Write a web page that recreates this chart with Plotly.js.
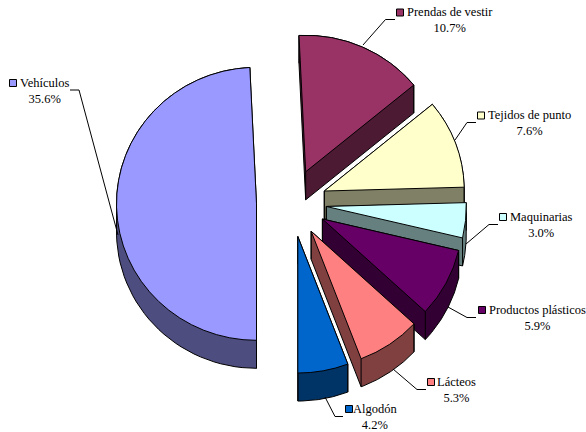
<!DOCTYPE html>
<html>
<head>
<meta charset="utf-8">
<script src="https://cdn.plot.ly/plotly-3.0.1.min.js"></script>
<style>html,body{margin:0;padding:0;background:#fff}#chart{width:586px;height:432px}</style>
</head>
<body>
<div id="chart"></div>
<script>
// Data
const categories = ["Vehículos","Prendas de vestir","Tejidos de punto","Maquinarias","Productos plásticos","Lácteos","Algodón"];
const shares = [35.6,10.7,7.6,3.0,5.9,5.3,4.2];
const topColors = ["#9999FF","#993366","#FFFFCC","#CCFFFF","#660066","#FF8080","#0066CC"];
const wallColors = ["#4D4D80","#4D1A33","#808066","#668080","#330033","#804040","#003366"];

// Geometry of the exploded pie, in page pixels
const W = 586, H = 432;
const CX = 291.5, CY = 203, R = 140, SQUASH = 0.975, PULL_PX = 35, DEPTH = 28, START = 180;
const pull = PULL_PX / R;

// Annotation placement: [text centre x, text centre y]
const labelPos = [[44,90.5],[449.5,20],[529,123],[541,225],[537,318],[456,390],[375.5,416.5]];
// Legend key centres
const keyPos = [[13,83],[400,12.5],[481,115.5],[503,217],[482,310],[431,382],[349,409]];
// Leader lines
const leaders = [
  [[70,90],[79,90],[118,235]],
  [[395,19.5],[385.5,19.5],[363,45]],
  [[476,122.5],[467,122.5],[455,140]],
  [[498,224.5],[489,224.5],[466,244]],
  [[476,317.5],[467,317.5],[448,307]],
  [[426,389.5],[417,389.5],[393,369]],
  [[343,416.5],[335,416.5],[325,397]]
];

function hull(pts){
  const p = pts.slice().sort((a,b)=>a[0]-b[0]||a[1]-b[1]);
  const cross=(o,a,b)=>(a[0]-o[0])*(b[1]-o[1])-(a[1]-o[1])*(b[0]-o[0]);
  const lo=[],up=[];
  for(const q of p){while(lo.length>1&&cross(lo[lo.length-2],lo[lo.length-1],q)<=0)lo.pop();lo.push(q);}
  for(const q of p.slice().reverse()){while(up.length>1&&cross(up[up.length-2],up[up.length-1],q)<=0)up.pop();up.push(q);}
  lo.pop();up.pop();return lo.concat(up);
}

const total = shares.reduce((a,b)=>a+b,0);
const rad = d=>d*Math.PI/180;
let cum = 0;
const wallTraces = [];
shares.forEach((v,i)=>{
  const a0 = START + cum/total*360, a1 = START + (cum+v)/total*360, mid=(a0+a1)/2;
  cum += v;
  const ax = CX + PULL_PX*Math.sin(rad(mid)), ay = CY - SQUASH*PULL_PX*Math.cos(rad(mid));
  const top=[[ax,ay]];
  for(let k=0;k<=60;k++){
    const a=a0+(a1-a0)*k/60;
    top.push([ax+R*Math.sin(rad(a)),ay-SQUASH*R*Math.cos(rad(a))]);
  }
  const all = top.concat(top.map(p=>[p[0],p[1]+DEPTH]));
  const h = hull(all); h.push(h[0]);
  const xs=h.map(p=>p[0]), ys=h.map(p=>p[1]);
  [top[0],top[1],top[top.length-1]].forEach(p=>{
    xs.push(null,p[0],p[0]); ys.push(null,p[1],p[1]+DEPTH);
  });
  wallTraces.push({type:"scatter",mode:"lines",x:xs,y:ys,fill:"toself",fillcolor:wallColors[i],
    line:{color:"#000",width:1},hoverinfo:"skip",showlegend:false,xaxis:"x",yaxis:"y"});
});

// Draw back-to-front
const wallOrder = [1,2,3,0,4,5,6];
const half = R*(1+pull);
const pie = {
  type:"pie",labels:categories,values:shares,sort:false,direction:"clockwise",rotation:START,
  pull:shares.map(()=>pull),textinfo:"none",showlegend:false,
  marker:{colors:topColors,line:{color:"#000",width:1}},
  domain:{x:[(CX-half)/W,(CX+half)/W],y:[1-(CY+half)/H,1-(CY-half)/H]}
};

const shapes=[];
leaders.forEach(l=>{
  shapes.push({type:"path",xref:"x",yref:"y",path:"M"+l.map(p=>p.join(",")).join("L"),line:{color:"#000",width:1}});
});
keyPos.forEach((k,i)=>{
  shapes.push({type:"rect",xref:"x",yref:"y",x0:k[0]-3.5,x1:k[0]+3.5,y0:k[1]-3.5,y1:k[1]+3.5,
    fillcolor:topColors[i],line:{color:"#000",width:1}});
});
const annotations = categories.map((c,i)=>({
  xref:"x",yref:"y",x:labelPos[i][0],y:labelPos[i][1],xanchor:"center",yanchor:"middle",align:"center",
  showarrow:false,text:c+"<br>"+shares[i].toFixed(1)+"%",
  font:{family:"'Liberation Serif',serif",size:12.5,color:"#000"}
}));

function squashPie(gd){
  const layer = gd.querySelector(".pielayer");
  if(layer) layer.setAttribute("transform","translate(0,"+CY+") scale(1,"+SQUASH+") translate(0,"+(-CY)+")");
}
const gd = document.getElementById("chart");
Plotly.newPlot(gd,wallOrder.map(i=>wallTraces[i]).concat([pie]),{
  width:W,height:H,margin:{l:0,r:0,t:0,b:0},paper_bgcolor:"#fff",plot_bgcolor:"#fff",showlegend:false,
  xaxis:{range:[0,W],visible:false,fixedrange:true},
  yaxis:{range:[H,0],visible:false,fixedrange:true},
  shapes,annotations
},{displayModeBar:false,staticPlot:true}).then(()=>squashPie(gd));
</script>
</body>
</html>
